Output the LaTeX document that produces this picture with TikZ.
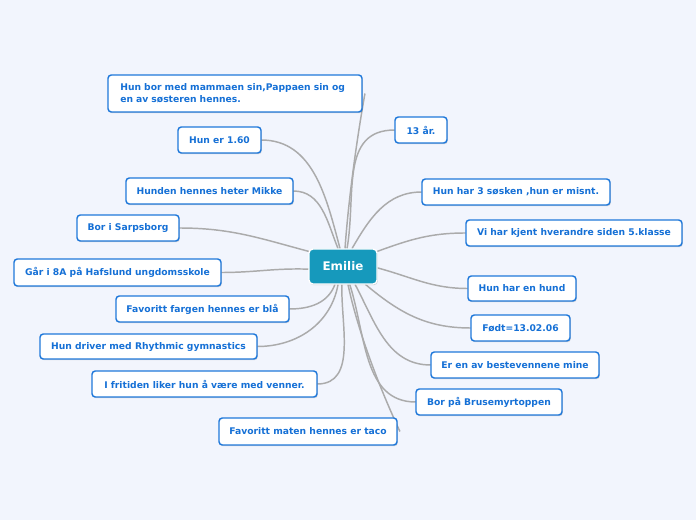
\documentclass[tikz,border=0pt]{standalone}
\usepackage{fontspec}
\setmainfont{DejaVu Sans}
\usetikzlibrary{shadows,calc}
\definecolor{bgc}{HTML}{F2F5FD}
\definecolor{txtc}{HTML}{1570D6}
\definecolor{brdc}{HTML}{1F78DA}
\definecolor{ctrc}{HTML}{1699BC}
\definecolor{linec}{HTML}{ABABAB}
\tikzset{
  box/.style={draw=brdc, line width=1.1pt, fill=white, rounded corners=2.5pt,
    font=\fontsize{6.9}{9}\selectfont\bfseries, text=txtc, inner sep=0pt,
    drop shadow={shadow xshift=0.6pt, shadow yshift=-0.9pt, opacity=0.25, fill=black!60}},
  sz/.style 2 args={minimum width=#1*0.75pt, minimum height=#2*0.75pt},
  ctr/.style={fill=ctrc, draw=white, line width=1pt, rounded corners=3pt, text=white,
    font=\fontsize{8.9}{10}\selectfont\bfseries, inner sep=0pt,
    drop shadow={shadow xshift=0.6pt, shadow yshift=-0.9pt, opacity=0.25, fill=black!60}},
  conn/.style={draw=linec, line width=1.1pt}
}
\begin{document}
\begin{tikzpicture}[x=0.75pt,y=-0.75pt]
\fill[bgc] (0,0) rectangle (696,520);
\useasboundingbox (0,0) rectangle (696,520);
% node positions
\path
 (343,266.5) coordinate (Cp)
 (235,93.5) coordinate (P1)
 (219.5,140) coordinate (P2)
 (209.5,191) coordinate (P3)
 (128,228) coordinate (P4)
 (117.5,272.5) coordinate (P5)
 (202.5,309) coordinate (P6)
 (148.5,346.5) coordinate (P7)
 (204.5,384) coordinate (P8)
 (308,431.5) coordinate (P9)
 (421,130) coordinate (P10)
 (516,192) coordinate (P11)
 (574,233) coordinate (P12)
 (522,288.5) coordinate (P13)
 (520.5,328) coordinate (P14)
 (515,365) coordinate (P15)
 (489,402) coordinate (P16);
% placeholder nodes for connector ends
\node[sz={68}{35}, inner sep=0pt] (C) at (Cp) {};
\foreach \n/\w/\h in {1/254/37,2/83/26,3/167/26,4/102/26,5/207/27,6/173/26,7/217/25,8/225/26,9/178/27,10/52/26,11/188/26,12/216/26,13/108/25,14/99/26,15/168/26,16/146/26}
  \node[sz={\w}{\h}, inner sep=0pt] (B\n) at (P\n) {};
\draw[conn] ([xshift=1.5pt]C.north) to[out=86,in=-100,looseness=0.8] ([xshift=2pt]B1.east);
\draw[conn] ([xshift=-2.2pt]C.north) to[out=105,in=0] (B2.east);
\draw[conn] ([xshift=-3.7pt]C.north) to[out=112,in=0] (B3.east);
\draw[conn] ([yshift=-2pt]C.north west) to[out=165,in=0] (B4.east);
\draw[conn] ([yshift=-2pt]C.west) to[out=178,in=0] (B5.east);
\draw[conn] ([xshift=-6pt]C.south) to[out=-110,in=0] (B6.east);
\draw[conn] ([xshift=-3.7pt]C.south) to[out=-100,in=0] (B7.east);
\draw[conn] ([xshift=-0.8pt]C.south) to[out=-92,in=0] (B8.east);
\draw[conn] ([xshift=3.7pt]C.south) to[out=-78,in=115,looseness=0.8] ([xshift=2pt]B9.east);
\draw[conn] ([xshift=3pt]C.north) to[out=80,in=180,looseness=1.1] (B10.west);
\draw[conn] ([xshift=6.7pt]C.north) to[out=60,in=180] (B11.west);
\draw[conn] ([yshift=-2pt]C.north east) to[out=20,in=180] (B12.west);
\draw[conn] ([yshift=-1pt]C.east) to[out=-15,in=180] (B13.west);
\draw[conn] ([xshift=-9pt]C.south east) to[out=-40,in=180] (B14.west);
\draw[conn] ([xshift=9pt]C.south) to[out=-62,in=180] (B15.west);
\draw[conn] ([xshift=5pt]C.south) to[out=-72,in=180] (B16.west);
% visible boxes
\node[ctr, sz={68}{35}] (E) at (Cp) {Emilie};
\node[box, sz={254}{37}, text width=172pt, align=left] (N1) at (P1) {Hun bor med mammaen sin,Pappaen sin og en av søsteren hennes.};
\node[box, sz={83}{26}] (N2) at (P2) {Hun er 1.60};
\node[box, sz={167}{26}] (N3) at (P3) {Hunden hennes heter Mikke};
\node[box, sz={102}{26}] (N4) at (P4) {Bor i Sarpsborg};
\node[box, sz={207}{27}] (N5) at (P5) {Går i 8A på Hafslund ungdomsskole};
\node[box, sz={173}{26}] (N6) at (P6) {Favoritt fargen hennes er blå};
\node[box, sz={217}{25}] (N7) at (P7) {Hun driver med Rhythmic gymnastics};
\node[box, sz={225}{26}] (N8) at (P8) {I fritiden liker hun å være med venner.};
\node[box, sz={178}{27}] (N9) at (P9) {Favoritt maten hennes er taco};
\node[box, sz={52}{26}] (N10) at (P10) {13 år.};
\node[box, sz={188}{26}] (N11) at (P11) {Hun har 3 søsken ,hun er misnt.};
\node[box, sz={216}{26}] (N12) at (P12) {Vi har kjent hverandre siden 5.klasse};
\node[box, sz={108}{25}] (N13) at (P13) {Hun har en hund};
\node[box, sz={99}{26}] (N14) at (P14) {Født=13.02.06};
\node[box, sz={168}{26}] (N15) at (P15) {Er en av bestevennene mine};
\node[box, sz={146}{26}] (N16) at (P16) {Bor på Brusemyrtoppen};
\end{tikzpicture}
\end{document}
